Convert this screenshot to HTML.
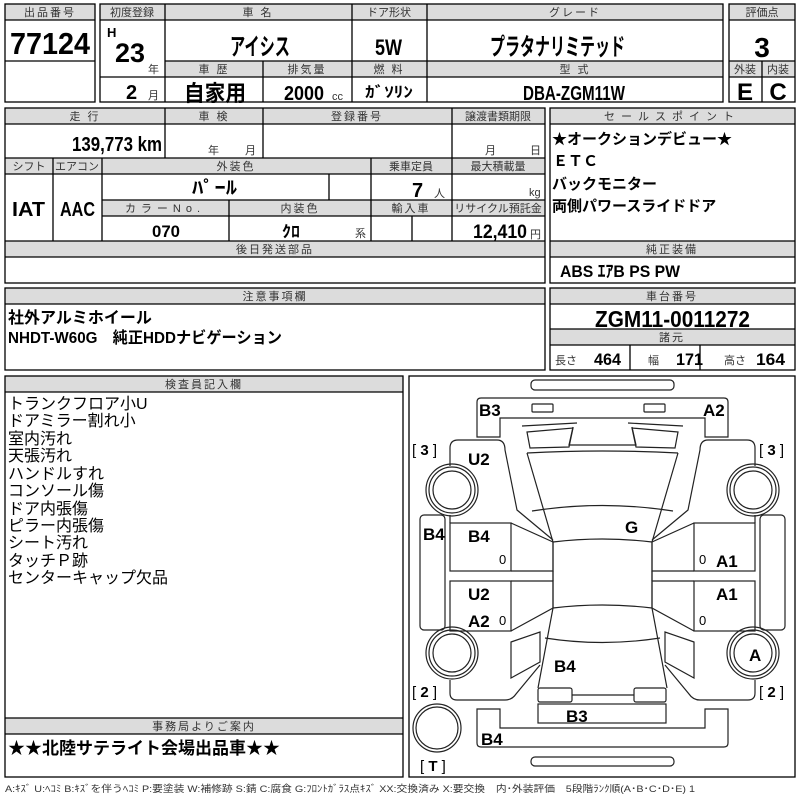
<!DOCTYPE html>
<html><head><meta charset="utf-8"><style>
html,body{margin:0;padding:0;background:#fff;}
svg{display:block}
.h{font:11px "Liberation Sans","Noto Sans CJK JP",sans-serif;fill:#333;letter-spacing:2px;text-anchor:middle}
.v{font-family:"Liberation Sans Narrow","Liberation Sans","Noto Sans CJK JP",sans-serif;font-weight:bold;fill:#000}
.c{text-anchor:middle}
.s{font:11px "Liberation Sans","Noto Sans CJK JP",sans-serif;fill:#333}
.t{font:bold 15px "Liberation Sans","Noto Sans CJK JP",sans-serif;fill:#000}
.d{font:bold 17px "Liberation Sans","Noto Sans CJK JP",sans-serif;fill:#000}
.b{font:16px "Liberation Sans","Noto Sans CJK JP",sans-serif;fill:#000}
</style></head><body>
<svg width="800" height="800" viewBox="0 0 800 800" xmlns="http://www.w3.org/2000/svg">
<g fill="#dcdcdc">
<rect x="5" y="4" width="90" height="16"/>
<rect x="100" y="4" width="623" height="16"/>
<rect x="165" y="61" width="558" height="16"/>
<rect x="729" y="4" width="66" height="16"/><rect x="729" y="61" width="66" height="16"/>
<rect x="5" y="108" width="540" height="16"/><rect x="5" y="158" width="540" height="16"/>
<rect x="102" y="200" width="443" height="16"/><rect x="5" y="241" width="540" height="16"/>
<rect x="550" y="108" width="245" height="16"/><rect x="550" y="241" width="245" height="16"/>
<rect x="5" y="288" width="540" height="16"/>
<rect x="550" y="288" width="245" height="16"/><rect x="550" y="329" width="245" height="16"/>
<rect x="5" y="376" width="398" height="16"/><rect x="5" y="718" width="398" height="16"/>
</g>
<g fill="none" stroke="#000" stroke-width="1.3">
<rect x="5" y="4" width="90" height="98"/><path d="M5 20H95M5 61H95"/>
<rect x="100" y="4" width="623" height="98"/>
<path d="M165 4V102M352 4V102M427 4V102M263 61V102M100 20H723M165 61H723M100 77H723"/>
<rect x="729" y="4" width="66" height="98"/><path d="M729 20H795M729 61H795M729 77H795M762 61V102"/>
<rect x="5" y="108" width="540" height="175"/>
<path d="M5 124H545M5 158H545M5 174H545M102 200H545M102 216H545M5 241H545M5 257H545"/>
<path d="M165 108V158M263 108V158M452 108V241M53 158V241M102 158V241M371 158V241M329 174V200M229 200V241M412 216V241"/>
<rect x="550" y="108" width="245" height="175"/><path d="M550 124H795M550 241H795M550 257H795"/>
<rect x="5" y="288" width="540" height="82"/><path d="M5 304H545"/>
<rect x="550" y="288" width="245" height="82"/><path d="M550 304H795M550 329H795M550 345H795M630 345V370M700 345V370"/>
<rect x="5" y="376" width="398" height="401"/><path d="M5 392H403M5 718H403M5 734H403"/>
<rect x="409" y="376" width="386" height="401"/>
</g>
<text class="h" x="50" y="16">出品番号</text>
<text class="h" x="132" y="16" style="letter-spacing:0">初度登録</text>
<text class="h" x="258" y="16">車 名</text>
<text class="h" x="389" y="16" style="letter-spacing:0">ドア形状</text>
<text class="h" x="575" y="16">グレード</text>
<text class="h" x="762" y="16" style="letter-spacing:0">評価点</text>
<text class="h" x="214" y="73">車 歴</text>
<text class="h" x="307" y="73">排気量</text>
<text class="h" x="389" y="73">燃 料</text>
<text class="h" x="575" y="73">型 式</text>
<text class="h" x="745" y="73" style="letter-spacing:0">外装</text>
<text class="h" x="778" y="73" style="letter-spacing:0">内装</text>
<text class="v" x="10" y="54" font-size="31" textLength="80" lengthAdjust="spacingAndGlyphs">77124</text>
<text class="v" x="107" y="37" font-size="13">H</text>
<text class="v" x="115" y="62" font-size="27" textLength="30" lengthAdjust="spacingAndGlyphs">23</text>
<text class="s" x="148" y="73">年</text>
<text class="v" x="126" y="99" font-size="20">2</text>
<text class="s" x="148" y="99">月</text>
<text class="v" x="230" y="55" font-size="24" textLength="60" lengthAdjust="spacingAndGlyphs">アイシス</text>
<text class="v" x="375" y="55" font-size="22" textLength="27" lengthAdjust="spacingAndGlyphs">5W</text>
<text class="v" x="490" y="55" font-size="24" textLength="135" lengthAdjust="spacingAndGlyphs">プラタナリミテッド</text>
<text class="v c" x="762" y="57" font-size="28">3</text>
<text class="v" x="184" y="101" font-size="22" textLength="62" lengthAdjust="spacingAndGlyphs">自家用</text>
<text class="v" x="284" y="100" font-size="20" textLength="40" lengthAdjust="spacingAndGlyphs">2000</text>
<text class="s" x="332" y="100">cc</text>
<text class="v" x="365" y="97" font-size="15" textLength="48" lengthAdjust="spacingAndGlyphs">ｶﾞｿﾘﾝ</text>
<text class="v" x="523" y="100" font-size="20" textLength="102" lengthAdjust="spacingAndGlyphs">DBA-ZGM11W</text>
<text class="v c" x="745" y="100" font-size="24">E</text>
<text class="v c" x="778" y="100" font-size="24">C</text>
<text class="h" x="85" y="120">走 行</text>
<text class="h" x="214" y="120">車 検</text>
<text class="h" x="357" y="120">登録番号</text>
<text class="h" x="498" y="120" style="letter-spacing:0">譲渡書類期限</text>
<text class="v" x="72" y="151" font-size="20" textLength="90" lengthAdjust="spacingAndGlyphs">139,773 km</text>
<text class="s" x="208" y="154">年</text><text class="s" x="245" y="154">月</text>
<text class="s" x="485" y="154">月</text><text class="s" x="530" y="154">日</text>
<text class="h" x="29" y="170" style="letter-spacing:0">シフト</text>
<text class="h" x="77" y="170" style="letter-spacing:0">エアコン</text>
<text class="h" x="236" y="170">外装色</text>
<text class="h" x="411" y="170" style="letter-spacing:0">乗車定員</text>
<text class="h" x="498" y="170" style="letter-spacing:0">最大積載量</text>
<text class="v" x="192" y="194" font-size="18" textLength="45" lengthAdjust="spacingAndGlyphs">ﾊﾟｰﾙ</text>
<text class="v" x="412" y="197" font-size="20">7</text>
<text class="s" x="434" y="197">人</text>
<text class="s" x="529" y="196">kg</text>
<text class="v" x="12" y="216" font-size="20" textLength="33" lengthAdjust="spacingAndGlyphs">IAT</text>
<text class="v" x="60" y="216" font-size="20" textLength="35" lengthAdjust="spacingAndGlyphs">AAC</text>
<text class="h" x="165" y="212" style="letter-spacing:5px">カラーNo.</text>
<text class="h" x="300" y="212">内装色</text>
<text class="h" x="411" y="212">輸入車</text>
<text class="h" x="498" y="212" style="letter-spacing:0">リサイクル預託金</text>
<text class="v" x="152" y="237" font-size="17" textLength="28" lengthAdjust="spacingAndGlyphs">070</text>
<text class="v" x="282" y="237" font-size="16" textLength="18" lengthAdjust="spacingAndGlyphs">ｸﾛ</text>
<text class="s" x="355" y="237">系</text>
<text class="v" x="473" y="238" font-size="19" textLength="54" lengthAdjust="spacingAndGlyphs">12,410</text>
<text class="s" x="530" y="238">円</text>
<text class="h" x="275" y="253">後日発送部品</text>
<text class="h" x="672" y="120" style="letter-spacing:6px">セールスポイント</text>
<text class="t" x="552" y="144">★オークションデビュー★</text>
<text class="t" x="553" y="166">ＥＴＣ</text>
<text class="t" x="552" y="189">バックモニター</text>
<text class="t" x="552" y="211">両側パワースライドドア</text>
<text class="h" x="672" y="253">純正装備</text>
<text class="v" x="560" y="277" font-size="17" textLength="120" lengthAdjust="spacingAndGlyphs">ABS ｴｱB PS PW</text>
<text class="h" x="275" y="300">注意事項欄</text>
<text class="d" x="8" y="323" style="font-size:16px">社外アルミホイール</text>
<text class="d" x="8" y="343" style="font-size:16px" textLength="274" lengthAdjust="spacingAndGlyphs">NHDT-W60G　純正HDDナビゲーション</text>
<text class="h" x="672" y="300">車台番号</text>
<text class="v" x="595" y="327" font-size="23" textLength="155" lengthAdjust="spacingAndGlyphs">ZGM11-0011272</text>
<text class="h" x="672" y="341">諸元</text>
<text class="s" x="555" y="364">長さ</text><text class="v" x="594" y="365" font-size="17" textLength="27" lengthAdjust="spacingAndGlyphs">464</text>
<text class="s" x="648" y="364">幅</text><text class="v" x="676" y="365" font-size="17" textLength="27" lengthAdjust="spacingAndGlyphs">171</text>
<text class="s" x="724" y="364">高さ</text><text class="v" x="756" y="365" font-size="17" textLength="29" lengthAdjust="spacingAndGlyphs">164</text>
<text class="h" x="204" y="388">検査員記入欄</text>
<g class="b">
<text x="8" y="409">トランクフロア小U</text>
<text x="8" y="426">ドアミラー割れ小</text>
<text x="8" y="444">室内汚れ</text>
<text x="8" y="461">天張汚れ</text>
<text x="8" y="479">ハンドルすれ</text>
<text x="8" y="496">コンソール傷</text>
<text x="8" y="514">ドア内張傷</text>
<text x="8" y="531">ピラー内張傷</text>
<text x="8" y="548">シート汚れ</text>
<text x="8" y="566">タッチＰ跡</text>
<text x="8" y="583">センターキャップ欠品</text>
</g>
<text class="h" x="204" y="730">事務局よりご案内</text>
<text class="d" x="8" y="754">★★北陸サテライト会場出品車★★</text>
<text class="s" x="5" y="792" style="font-size:9.5px" textLength="690" lengthAdjust="spacingAndGlyphs">A:ｷｽﾞ U:ﾍｺﾐ B:ｷｽﾞを伴うﾍｺﾐ P:要塗装 W:補修跡 S:錆 C:腐食 G:ﾌﾛﾝﾄｶﾞﾗｽ点ｷｽﾞ XX:交換済み X:要交換　内･外装評価　5段階ﾗﾝｸ順(A･B･C･D･E) 1</text>
<g fill="none" stroke="#222" stroke-width="1.2">
<rect x="531" y="380" width="143" height="10" rx="4"/>
<rect x="531" y="757" width="143" height="9" rx="4"/>
<path d="M477 437V402Q477 398 481 398H724Q728 398 728 402V437H705V418H500V437Z"/>
<rect x="532" y="404" width="21" height="8" rx="1"/><rect x="644" y="404" width="21" height="8" rx="1"/>
<path d="M477 709V743Q477 747 481 747H724Q728 747 728 743V709H705V728H500V709Z"/>
<path d="M522 426L577 423M683 426L628 423"/>
<path d="M527 432L573 428L569 447L530 448Z M678 432L632 428L636 447L675 448Z"/>
<path d="M573 427L569 445H636L632 427"/>
<path d="M527 453Q602 449 678 453"/>
<path d="M527 453L553 542M678 453L652 542"/>
<path d="M532 511Q602 500 673 511"/>
<path d="M553 542Q602 536 652 542V608Q602 602 553 608Z"/>
<path d="M553 608L538 688M652 608L667 688"/>
<path d="M545 638Q602 647 660 638"/>
<rect x="538" y="688" width="34" height="14" rx="2"/><rect x="634" y="688" width="32" height="14" rx="2"/>
<path d="M572 695H634"/>
<rect x="538" y="704" width="128" height="19"/>
<g>
<path d="M450 466V448Q450 440 458 440H497Q505 440 505 450L517 510L553 540"/>
<path d="M450 515V523"/>
<rect x="450" y="523" width="61" height="48"/>
<path d="M511 523L553 542V571H511"/>
<rect x="450" y="581" width="61" height="50"/>
<path d="M511 581H553V608L511 631"/>
<path d="M553 571V581"/>
<path d="M450 680V693Q450 700 457 700H505Q512 700 516 694L540 665"/>
<path d="M511 642L540 632V662L511 678Z"/>
<rect x="420" y="515" width="25" height="115" rx="4"/>
<circle cx="452" cy="490" r="26"/><circle cx="452" cy="490" r="23"/><circle cx="452" cy="490" r="19"/>
<circle cx="452" cy="653" r="26"/><circle cx="452" cy="653" r="23"/><circle cx="452" cy="653" r="19"/>
</g>
<g transform="matrix(-1 0 0 1 1205 0)">
<path d="M450 466V448Q450 440 458 440H497Q505 440 505 450L517 510L553 540"/>
<path d="M450 515V523"/>
<rect x="450" y="523" width="61" height="48"/>
<path d="M511 523L553 542V571H511"/>
<rect x="450" y="581" width="61" height="50"/>
<path d="M511 581H553V608L511 631"/>
<path d="M553 571V581"/>
<path d="M450 680V693Q450 700 457 700H505Q512 700 516 694L540 665"/>
<path d="M511 642L540 632V662L511 678Z"/>
<rect x="420" y="515" width="25" height="115" rx="4"/>
<circle cx="452" cy="490" r="26"/><circle cx="452" cy="490" r="23"/><circle cx="452" cy="490" r="19"/>
<circle cx="452" cy="653" r="26"/><circle cx="452" cy="653" r="23"/><circle cx="452" cy="653" r="19"/>
</g>
<circle cx="437" cy="728" r="24"/><circle cx="437" cy="728" r="21"/>
</g>
<g class="d">
<text x="479" y="416">B3</text><text x="703" y="416">A2</text>
<text x="468" y="465">U2</text>
<text x="625" y="533">G</text>
<text x="423" y="540">B4</text><text x="468" y="542">B4</text>
<text x="716" y="567">A1</text><text x="716" y="600">A1</text>
<text x="468" y="600">U2</text><text x="468" y="627">A2</text>
<text x="749" y="661">A</text>
<text x="554" y="672">B4</text>
<text x="566" y="722">B3</text>
<text x="481" y="745">B4</text>
</g>
<g style="font:15px 'Liberation Sans','Noto Sans CJK JP',sans-serif">
<text x="412" y="455">[ <tspan font-weight="bold">3</tspan> ]</text>
<text x="759" y="455">[ <tspan font-weight="bold">3</tspan> ]</text>
<text x="412" y="697">[ <tspan font-weight="bold">2</tspan> ]</text>
<text x="759" y="697">[ <tspan font-weight="bold">2</tspan> ]</text>
<text x="420" y="771">[ <tspan font-weight="bold">T</tspan> ]</text>
</g>
<g style="font:13px 'Liberation Sans',sans-serif">
<text x="499" y="564">0</text><text x="699" y="564">0</text>
<text x="499" y="625">0</text><text x="699" y="625">0</text>
</g>
</svg>
</body></html>
